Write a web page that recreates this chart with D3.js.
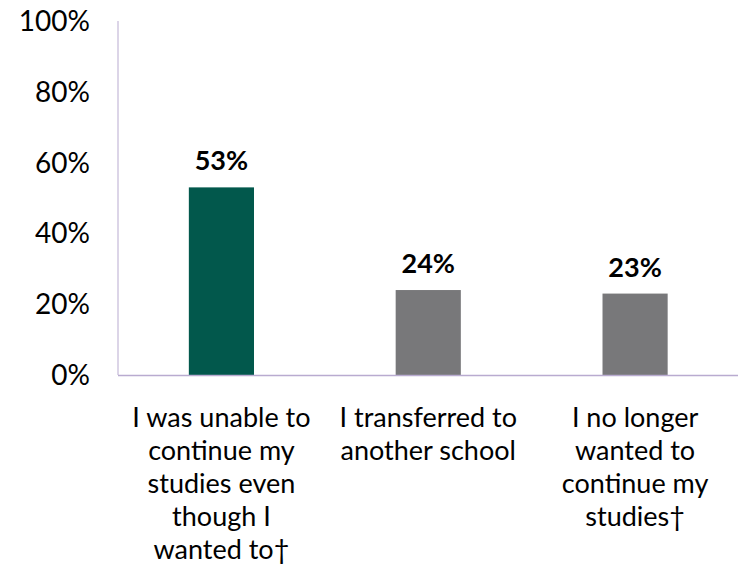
<!DOCTYPE html>
<html>
<head>
<meta charset="utf-8">
<script src="https://cdn.jsdelivr.net/npm/d3@7"></script>
<style>
  body { margin: 0; background: #fff; }
  text { font-family: Lato, "Open Sans", sans-serif; }
</style>
</head>
<body>
<div id="chart"></div>
<script>
const categories = [
    ["I was unable to", "continue my", "studies even", "though I", "wanted to†"],
    ["I transferred to", "another school"],
    ["I no longer", "wanted to", "continue my", "studies†"]
]
const values = [53, 24, 23]
const barColors = ["#02584c", "#78787a", "#78787a"]
const yTicks = [0, 20, 40, 60, 80, 100]

const width = 738
const height = 569
const margin = { top: 21, right: 0, bottom: 194, left: 118 }

const svg = d3.select("#chart")
    .append("svg")
    .attr("width", width)
    .attr("height", height)

const x = d3.scaleBand()
    .domain(d3.range(values.length))
    .range([margin.left, width - margin.right + 0.5])
    .paddingInner(0.685)
    .paddingOuter(0.3425)

const y = d3.scaleLinear()
    .domain([0, 100])
    .range([height - margin.bottom, margin.top])

// y tick labels (no tick marks)
svg.selectAll(".ytick")
    .data(yTicks)
    .enter()
    .append("text")
    .attr("x", 90)
    .attr("y", d => y(d))
    .attr("dy", "0.36em")
    .attr("text-anchor", "end")
    .style("font-size", "28px")
    .style("fill", "#000")
    .text(d => d + "%")

// bars
svg.selectAll(".bar")
    .data(values)
    .enter()
    .append("rect")
    .attr("x", (d, i) => x(i))
    .attr("y", d => y(d))
    .attr("width", x.bandwidth())
    .attr("height", d => y(0) - y(d))
    .attr("fill", (d, i) => barColors[i])

// axis lines
const axisColor = "#b9abd0"
svg.append("line")
    .attr("x1", margin.left).attr("x2", margin.left)
    .attr("y1", y(100)).attr("y2", y(0))
    .attr("stroke", axisColor).attr("stroke-width", 1)
svg.append("line")
    .attr("x1", margin.left).attr("x2", width)
    .attr("y1", y(0) + 0.5).attr("y2", y(0) + 0.5)
    .attr("stroke", axisColor).attr("stroke-width", 1.5)

// value labels
svg.selectAll(".val")
    .data(values)
    .enter()
    .append("text")
    .attr("x", (d, i) => x(i) + x.bandwidth() / 2)
    .attr("y", d => y(d) - 17)
    .attr("text-anchor", "middle")
    .style("font-size", "27px")
    .style("font-weight", "bold")
    .style("fill", "#000")
    .text(d => d + "%")

// category labels
const cats = svg.selectAll(".cat")
    .data(categories)
    .enter()
    .append("text")
    .attr("text-anchor", "middle")
    .style("font-size", "27px")
    .style("fill", "#000")
    .attr("transform", (d, i) => `translate(${x(i) + x.bandwidth() / 2},427)`)

cats.selectAll("tspan")
    .data(d => d)
    .enter()
    .append("tspan")
    .attr("x", 0)
    .attr("y", (d, i) => i * 33)
    .text(d => d)
</script>
</body>
</html>
